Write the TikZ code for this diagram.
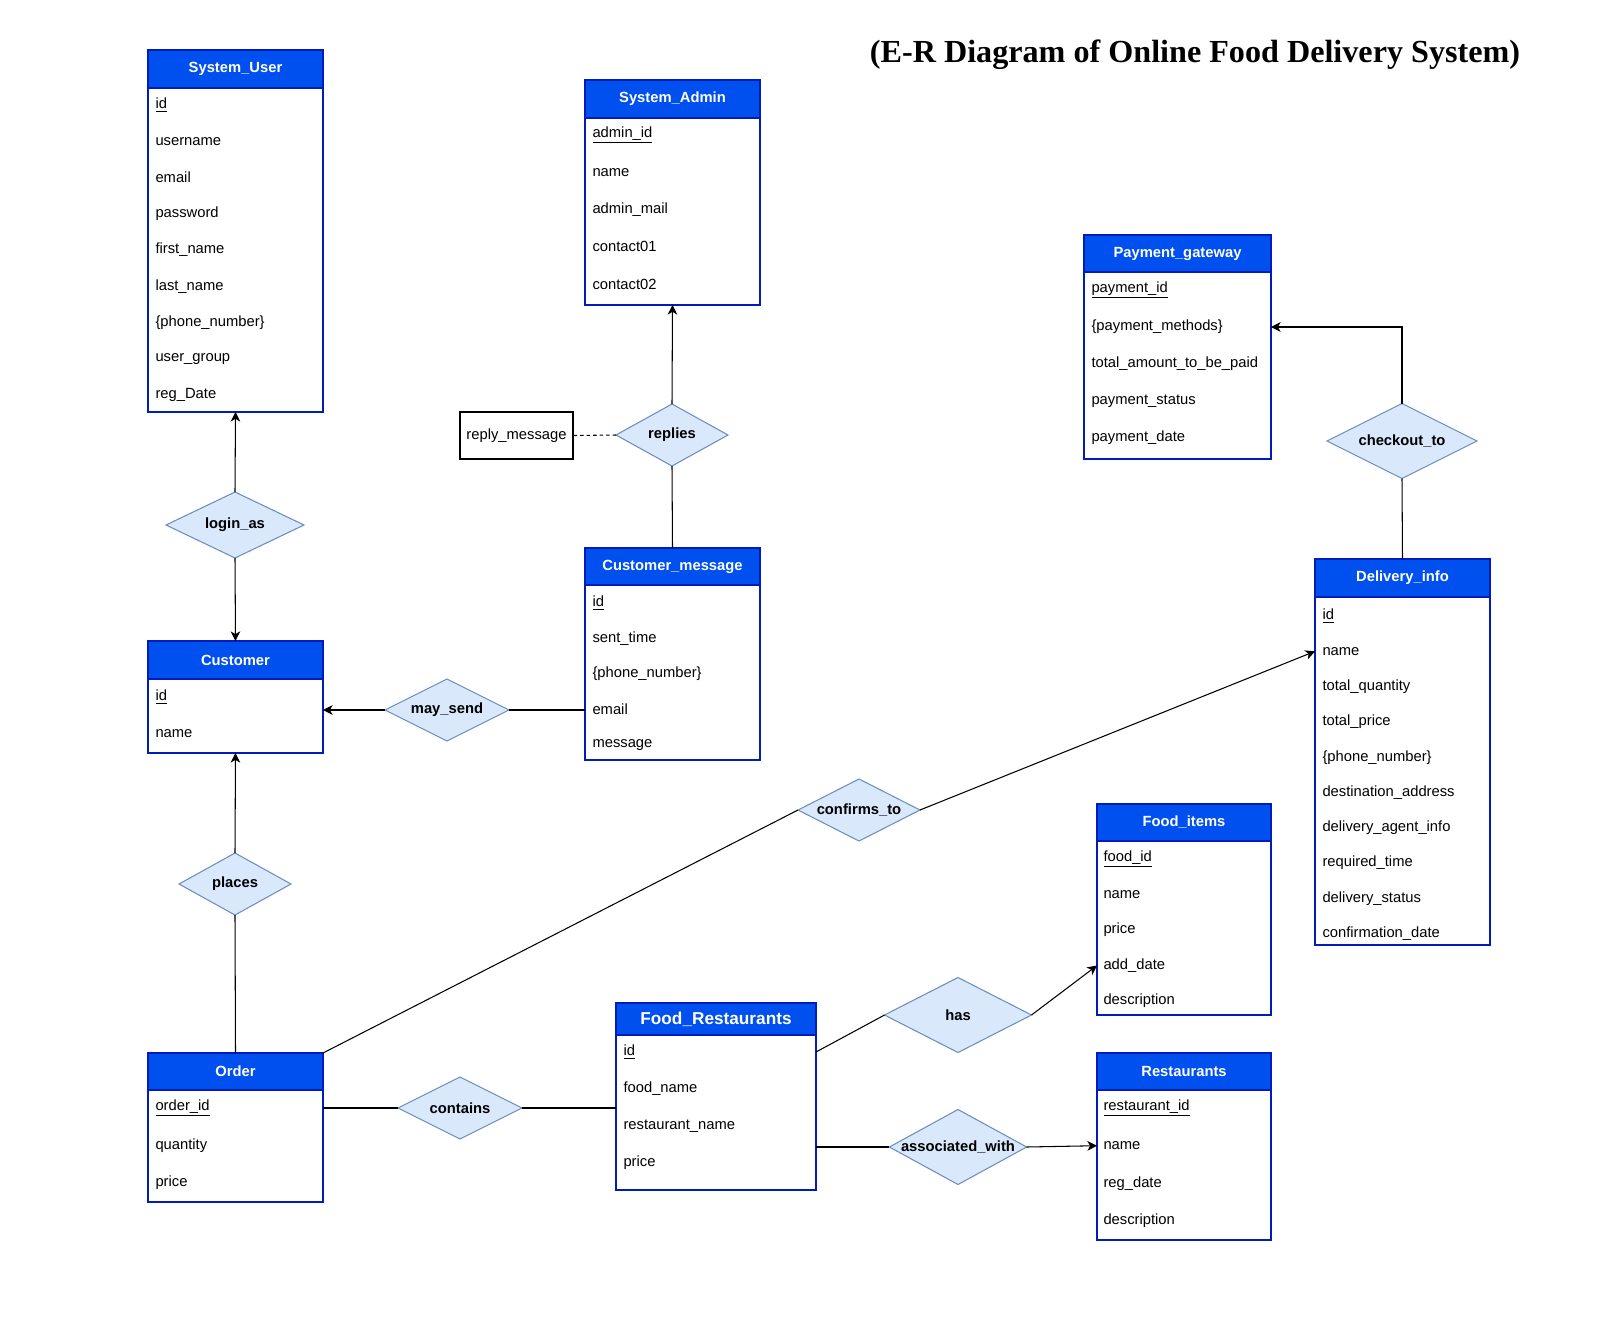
\documentclass[tikz,border=0pt]{standalone}
\usepackage{fontspec}
\setmainfont{Liberation Sans}
\newfontfamily\titlefont{Liberation Serif}
\usepackage{tikz}
\usetikzlibrary{arrows.meta}
\usetikzlibrary{positioning}
\usetikzlibrary{shapes.geometric}

\definecolor{hdblue}{HTML}{0050EF}
\definecolor{bdblue}{HTML}{001DBC}
\definecolor{relfill}{HTML}{DAE8FC}
\definecolor{reldraw}{HTML}{6C8EBF}

\tikzset{
  ehead/.style={rectangle,fill=hdblue,draw=bdblue,line width=0.8pt,text=white,inner sep=0pt,outer sep=0pt,font=\fontsize{8.4}{10}\selectfont\bfseries},
  ebody/.style={rectangle,draw=bdblue,line width=0.8pt,fill=white,inner sep=0pt,outer sep=0pt},
  attr/.style={anchor=west,inner sep=0pt,font=\fontsize{8.4}{10}\selectfont},
  rel/.style={diamond,aspect=2,fill=relfill,draw=reldraw,line width=0.6pt,inner sep=0pt,outer sep=0pt,font=\fontsize{8.4}{10}\selectfont\bfseries},
}

\begin{document}
\begin{tikzpicture}[>={Stealth[length=5.5pt,width=5.5pt,inset=1.6pt]},semithick,x=0.02cm,y=-0.02cm]

            \useasboundingbox[fill=white] (0,0) rectangle (1600,1333);

            % Title
            \node[font=\titlefont\fontsize{18.3}{22}\selectfont\bfseries] (title) at (1195,55) {(E-R Diagram of Online Food Delivery System)};

            % System_User
            \node[ehead,minimum width=3.5cm,minimum height=0.76cm] (SUh) at (235.5,69) {System\_User};
            \node[ebody,below=0pt of SUh,minimum width=3.5cm,minimum height=6.48cm] (SUb) {};
            \foreach \att [count=\i] in {{\underline{id}},username,email,password,first\_name,last\_name,\{phone\_number\},user\_group,reg\_Date}
                \node[attr] (SU\i) at (155,{105+36.25*(\i-1)}) {\att};

            % System_Admin
            \node[ehead,minimum width=3.5cm,minimum height=0.76cm] (SAh) at (672.5,99) {System\_Admin};
            \node[ebody,below=0pt of SAh,minimum width=3.5cm,minimum height=3.74cm] (SAb) {};
            \foreach \att [count=\i] in {{\underline{admin\_id}},name,admin\_mail,contact01,contact02}
                \node[attr] (SA\i) at (592,{135+37.25*(\i-1)}) {\att};

            % Payment_gateway
            \node[ehead,minimum width=3.74cm,minimum height=0.74cm] (PGh) at (1177.5,253.5) {Payment\_gateway};
            \node[ebody,below=0pt of PGh,minimum width=3.74cm,minimum height=3.74cm] (PGb) {};
            \foreach \att [count=\i] in {{\underline{payment\_id}},\{payment\_methods\},total\_amount\_to\_be\_paid,payment\_status,payment\_date}
                \node[attr] (PG\i) at (1091,{290+37*(\i-1)}) {\att};

            % Customer_message
            \node[ehead,minimum width=3.5cm,minimum height=0.74cm] (CMh) at (672.5,566.5) {Customer\_message};
            \node[ebody,below=0pt of CMh,minimum width=3.5cm,minimum height=3.5cm] (CMb) {};
            \foreach \att [count=\i] in {{\underline{id}},sent\_time,\{phone\_number\},email,message}
                \node[attr] (CM\i) at (592,{603+35.5*(\i-1)}) {\att};

            % Customer
            \node[ehead,minimum width=3.5cm,minimum height=0.76cm] (Ch) at (235.5,660) {Customer};
            \node[ebody,below=0pt of Ch,minimum width=3.5cm,minimum height=1.48cm] (Cb) {};
            \foreach \att [count=\i] in {{\underline{id}},name}
                \node[attr] (C\i) at (155,{697+37*(\i-1)}) {\att};

            % Delivery_info
            \node[ehead,minimum width=3.5cm,minimum height=0.76cm] (DIh) at (1402.5,578) {Delivery\_info};
            \node[ebody,below=0pt of DIh,minimum width=3.5cm,minimum height=6.96cm] (DIb) {};
            \foreach \att [count=\i] in {{\underline{id}},name,total\_quantity,total\_price,\{phone\_number\},destination\_address,delivery\_agent\_info,required\_time,delivery\_status,confirmation\_date}
                \node[attr] (DI\i) at (1322,{616+35.3*(\i-1)}) {\att};

            % Food_items
            \node[ehead,minimum width=3.48cm,minimum height=0.74cm] (FIh) at (1184,822.5) {Food\_items};
            \node[ebody,below=0pt of FIh,minimum width=3.48cm,minimum height=3.48cm] (FIb) {};
            \foreach \att [count=\i] in {{\underline{food\_id}},name,price,add\_date,description}
                \node[attr] (FI\i) at (1103,{859+35.5*(\i-1)}) {\att};

            % Order
            \node[ehead,minimum width=3.5cm,minimum height=0.74cm] (Oh) at (235.5,1071.5) {Order};
            \node[ebody,below=0pt of Oh,minimum width=3.5cm,minimum height=2.24cm] (Ob) {};
            \foreach \att [count=\i] in {{\underline{order\_id}},quantity,price}
                \node[attr] (O\i) at (155,{1108+37.5*(\i-1)}) {\att};

            % Food_Restaurants
            \node[ehead,minimum width=4cm,minimum height=0.64cm,font=\fontsize{9.8}{12}\selectfont\bfseries] (FRh) at (716,1019) {Food\_Restaurants};
            \node[ebody,below=0pt of FRh,minimum width=4cm,minimum height=3.1cm] (FRb) {};
            \foreach \att [count=\i] in {{\underline{id}},food\_name,restaurant\_name,price}
                \node[attr] (FR\i) at (623,{1052+37*(\i-1)}) {\att};

            % Restaurants
            \node[ehead,minimum width=3.48cm,minimum height=0.74cm] (Rh) at (1184,1071.5) {Restaurants};
            \node[ebody,below=0pt of Rh,minimum width=3.48cm,minimum height=3cm] (Rb) {};
            \foreach \att [count=\i] in {{\underline{restaurant\_id}},name,reg\_date,description}
                \node[attr] (R\i) at (1103,{1108+37.7*(\i-1)}) {\att};

            % Relationships
            \node[rel,minimum width=2.76cm,minimum height=1.32cm] (LA) at (235,525) {login\_as};
            \node[rel,minimum width=2.24cm,minimum height=1.24cm] (RP) at (672,435) {replies};
            \node[rel,minimum width=3cm,minimum height=1.5cm] (CK) at (1402,441) {checkout\_to};
            \node[rel,minimum width=2.48cm,minimum height=1.24cm] (MS) at (447,710) {may\_send};
            \node[rel,minimum width=2.44cm,minimum height=1.24cm] (CF) at (859,810) {confirms\_to};
            \node[rel,minimum width=2.24cm,minimum height=1.24cm] (PL) at (235,884) {places};
            \node[rel,minimum width=2.94cm,minimum height=1.5cm] (HS) at (958,1015) {has};
            \node[rel,minimum width=2.48cm,minimum height=1.24cm] (CT) at (460,1108) {contains};
            \node[rel,aspect=1.86,minimum width=2.74cm,minimum height=1.5cm] (AW) at (958,1147) {associated\_with};

            % Attribute of replies
            \node[draw=black,semithick,inner sep=0pt,minimum width=2.26cm,minimum height=0.94cm,font=\fontsize{8.4}{10}\selectfont] (RM) at (516.5,435.5) {reply\_message};

            % Connectors
            \path[->] (LA.north) edge (SUb.south);
            \path[->] (LA.south) edge (Ch.north);
            \path[->] (RP.north) edge (SAb.south);
            \path (RP.south) edge (CMh.north);
            \path[dash pattern=on 2pt off 1.7pt] (RM.east) edge (RP.west);
            \path[->] (MS.west) edge (Cb.east |- MS.west);
            \path (MS.east) edge (CMb.west |- MS.east);
            \path[->] (PL.north) edge (Cb.south);
            \path (PL.south) edge (Oh.north);
            \path (Oh.north east) edge (CF.west);
            \path[->] (CF.east) edge (DIb.west |- DI2);
            \draw[->] (CK.north) |- (PGb.east |- PG2);
            \path (CK.south) edge (DIh.north);
            \path (Ob.east |- O1) edge (CT.west);
            \path (CT.east) edge (FRb.west |- CT.east);
            \path (FRb.east |- FR1) edge (HS.west);
            \path[->] (HS.east) edge (FIb.west |- FI4);
            \path (FRb.east |- AW.west) edge (AW.west);
            \path[->] (AW.east) edge (Rb.west |- R2);

\end{tikzpicture}
\end{document}
